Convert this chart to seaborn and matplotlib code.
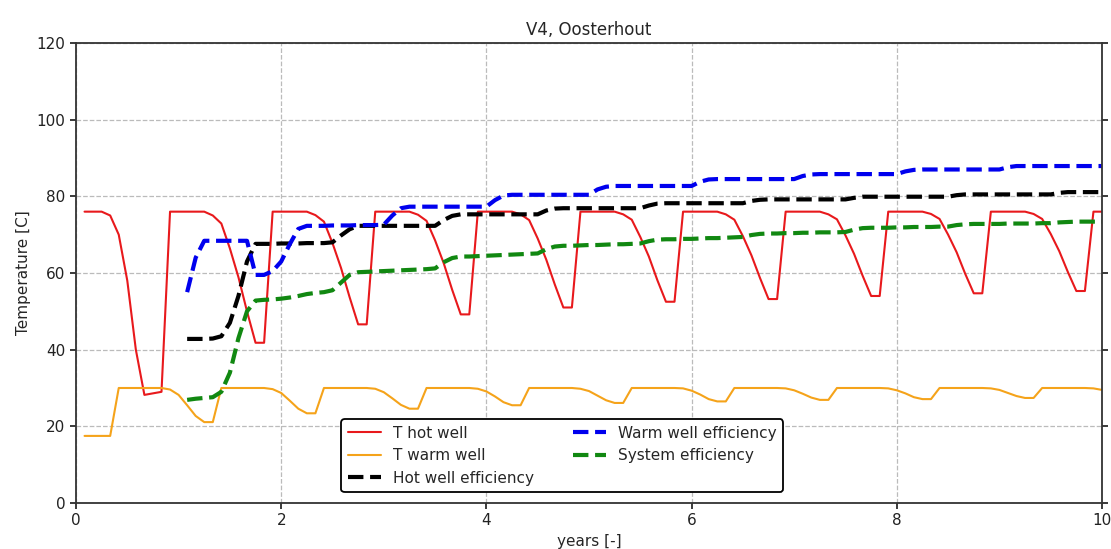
import numpy as np
import pandas as pd
import matplotlib
matplotlib.use('Agg')
import matplotlib.pyplot as plt
import seaborn as sns

# monthly samples, month 1..120 (years 1/12 .. 10)
months = np.arange(1, 121)

t_hot_well = [
    76, 76, 76, 75, 70, 58, 40, 28.2, 28.6, 29, 76, 76,
    76, 76, 76, 75.0, 72.9, 66.4, 58.9, 50.0, 41.8, 41.8, 76, 76,
    76, 76, 76, 75.1, 73.4, 67.8, 61.3, 53.7, 46.6, 46.6, 76, 76,
    76, 76, 76, 75.2, 73.6, 68.5, 62.6, 55.6, 49.2, 49.2, 76, 76,
    76, 76, 76, 75.3, 73.8, 69.0, 63.5, 57.0, 51.0, 51.0, 76, 76,
    76, 76, 76, 75.3, 73.9, 69.4, 64.3, 58.1, 52.5, 52.5, 76, 76,
    76, 76, 76, 75.3, 73.9, 69.6, 64.6, 58.7, 53.2, 53.2, 76, 76,
    76, 76, 76, 75.3, 74.0, 69.8, 65.0, 59.3, 54.0, 54.0, 76, 76,
    76, 76, 76, 75.4, 74.1, 70.0, 65.4, 59.8, 54.7, 54.7, 76, 76,
    76, 76, 76, 75.4, 74.1, 70.2, 65.7, 60.3, 55.3, 55.3, 76, 76,
]

t_warm_well = [
    17.5, 17.5, 17.5, 17.5, 30, 30, 30, 30, 30, 30,
    29.6, 28.2, 25.5, 22.7, 21.1, 21.1, 30, 30, 30, 30, 30, 30,
    29.7, 28.7, 26.7, 24.6, 23.4, 23.4, 30, 30, 30, 30, 30, 30,
    29.8, 28.9, 27.3, 25.6, 24.6, 24.6, 30, 30, 30, 30, 30, 30,
    29.8, 29.1, 27.8, 26.3, 25.5, 25.5, 30, 30, 30, 30, 30, 30,
    29.8, 29.2, 28.0, 26.8, 26.1, 26.1, 30, 30, 30, 30, 30, 30,
    29.9, 29.3, 28.3, 27.1, 26.5, 26.5, 30, 30, 30, 30, 30, 30,
    29.9, 29.4, 28.5, 27.5, 26.9, 26.9, 30, 30, 30, 30, 30, 30,
    29.9, 29.4, 28.6, 27.6, 27.1, 27.1, 30, 30, 30, 30, 30, 30,
    29.9, 29.5, 28.7, 27.9, 27.4, 27.4, 30, 30, 30, 30, 30, 30,
    29.9, 29.5,
]

# efficiencies start at month 13
eff_months = np.arange(13, 121)

hot_eff = [
    42.8, 42.8, 42.8, 42.9,
    43.5, 47, 54, 63, 67.6,
    67.6, 67.6, 67.7, 67.7, 67.7, 67.8, 67.8, 67.8, 68.0,
    69.8, 71.4, 72.3,
    72.3, 72.3, 72.3, 72.3, 72.3, 72.3, 72.3, 72.3, 72.3,
    73.8, 74.9, 75.3,
    75.3, 75.3, 75.3, 75.3, 75.3, 75.3, 75.3, 75.3, 75.3,
    76.3, 76.8, 76.9,
    76.9, 76.9, 76.9, 76.9, 76.9, 76.9, 76.9, 76.9, 76.9,
    77.6, 78.1, 78.2,
    78.2, 78.2, 78.2, 78.2, 78.2, 78.2, 78.2, 78.2, 78.2,
    78.8, 79.1, 79.2,
    79.2, 79.2, 79.2, 79.2, 79.2, 79.2, 79.2, 79.2, 79.2,
    79.6, 79.9, 79.9,
    79.9, 79.9, 79.9, 79.9, 79.9, 79.9, 79.9, 79.9, 79.9,
    80.3, 80.5, 80.5,
    80.5, 80.5, 80.5, 80.5, 80.5, 80.5, 80.5, 80.5, 80.5,
    80.9, 81.1, 81.1,
    81.1, 81.1, 81.1,
]

warm_eff = [
    55, 64, 68.4,
    68.4, 68.4, 68.4, 68.4, 68.4,
    59.5, 59.5, 60.5, 63, 67.5, 71.5, 72.3,
    72.3, 72.3, 72.4, 72.4, 72.4, 72.5, 72.5, 72.5,
    72.6, 75.0, 76.9, 77.3,
    77.3, 77.3, 77.3, 77.3, 77.3, 77.3, 77.3, 77.3, 77.3,
    79.0, 80.2, 80.4,
    80.4, 80.4, 80.4, 80.4, 80.4, 80.4, 80.4, 80.4, 80.4,
    81.8, 82.5, 82.7,
    82.7, 82.7, 82.7, 82.7, 82.7, 82.7, 82.7, 82.7, 82.7,
    83.8, 84.4, 84.5,
    84.5, 84.5, 84.5, 84.5, 84.5, 84.5, 84.5, 84.5, 84.5,
    85.3, 85.7, 85.8,
    85.8, 85.8, 85.8, 85.8, 85.8, 85.8, 85.8, 85.8, 85.8,
    86.5, 86.9, 87.0,
    87.0, 87.0, 87.0, 87.0, 87.0, 87.0, 87.0, 87.0, 87.0,
    87.6, 87.9, 87.9,
    87.9, 87.9, 87.9, 87.9, 87.9, 87.9, 87.9, 87.9, 87.9,
]

system_eff = [
    26.9, 27.2, 27.4, 27.6,
    29, 34, 43, 50, 52.8, 53.0, 53.1, 53.3,
    53.6, 54.0, 54.5, 54.8, 55.0, 55.5,
    57.5, 59.5, 60.2,
    60.3, 60.4, 60.5, 60.6, 60.7, 60.8, 60.9, 61.0, 61.2,
    62.8, 63.9, 64.3,
    64.3, 64.4, 64.5, 64.6, 64.7, 64.8, 64.9, 65.0, 65.1,
    66.2, 66.9, 67.1,
    67.1, 67.2, 67.3, 67.3, 67.4, 67.5, 67.5, 67.6, 67.7,
    68.3, 68.7, 68.8,
    68.8, 68.9, 68.9, 69.0, 69.1, 69.1, 69.2, 69.3, 69.4,
    69.9, 70.2, 70.3,
    70.3, 70.4, 70.4, 70.5, 70.5, 70.6, 70.6, 70.6, 70.7,
    71.3, 71.7, 71.8,
    71.8, 71.8, 71.9, 71.9, 72.0, 72.0, 72.0, 72.1, 72.1,
    72.5, 72.7, 72.8,
    72.8, 72.8, 72.8, 72.9, 72.9, 72.9, 72.9, 73.0, 73.0,
    73.2, 73.3, 73.4,
    73.4, 73.4, 73.4,
]

temps = pd.DataFrame({'years': months / 12, 'hot': t_hot_well, 'warm': t_warm_well})
effs = pd.DataFrame({'years': eff_months / 12, 'hot': hot_eff,
                     'warm': warm_eff, 'system': system_eff})

sns.set_theme(style='ticks')
plt.rcParams['font.family'] = ['DejaVu Sans']

fig = plt.figure(figsize=(11.11, 5.49), dpi=100)
ax = fig.add_axes([0.0684, 0.0838, 0.9235, 0.8379])

sns.lineplot(data=temps, x='years', y='hot', ax=ax, color='#e8191c', linewidth=1.5,
             label='T hot well', sort=False)
sns.lineplot(data=temps, x='years', y='warm', ax=ax, color='#f5a31a', linewidth=1.5,
             label='T warm well', sort=False)
sns.lineplot(data=effs, x='years', y='hot', ax=ax, color='black', linewidth=3,
             linestyle='--', label='Hot well efficiency', sort=False)
sns.lineplot(data=effs, x='years', y='warm', ax=ax, color='#0000ee', linewidth=3,
             linestyle='--', label='Warm well efficiency', sort=False)
sns.lineplot(data=effs, x='years', y='system', ax=ax, color='#118811', linewidth=3,
             linestyle='--', label='System efficiency', sort=False)

ax.set_xlim(0, 10)
ax.set_ylim(0, 120)
ax.set_xticks([0, 2, 4, 6, 8, 10])
ax.set_yticks([0, 20, 40, 60, 80, 100, 120])
ax.grid(True, linestyle='--', color='#bbbbbb', linewidth=0.9)
ax.tick_params(axis='both', labelsize=11, direction='out', length=4, right=True, colors='#222222')
for s in ax.spines.values():
    s.set_color('#333333')
    s.set_linewidth(1.3)

ax.set_title('V4, Oosterhout', fontsize=12)
ax.set_xlabel('years [-]', fontsize=11)
ax.set_ylabel('Temperature [C]', fontsize=11)

leg = ax.legend(loc='lower center', bbox_to_anchor=(0.474, 0.024), borderaxespad=0,
                ncol=2, fontsize=11, frameon=True, fancybox=True, columnspacing=2.5,
                handlelength=2.2)
leg.get_frame().set_edgecolor('black')
leg.get_frame().set_linewidth(1.3)
leg.get_frame().set_alpha(1)

plt.savefig('out.png', dpi=100)
plt.close()
